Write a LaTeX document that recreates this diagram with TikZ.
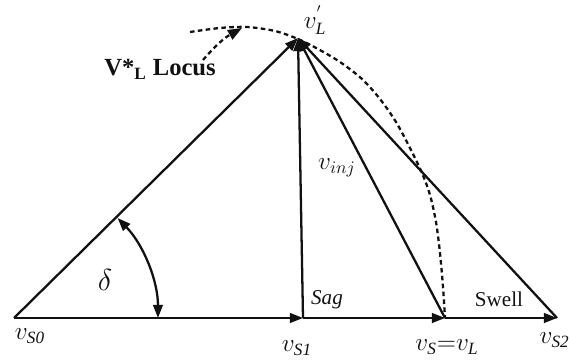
\documentclass[tikz,border=0pt]{standalone}
\usepackage{fontspec}
\setmainfont{Liberation Serif}
\usetikzlibrary{arrows.meta}
\definecolor{Ink}{HTML}{111111}
\tikzset{vec/.style={-{Triangle[length=7.5pt,width=5.5pt]},line width=1.3pt,draw=Ink},locus/.style={line width=1.3pt,draw=Ink,dash pattern=on 2.6pt off 1.9pt},lbl/.style={font=\fontsize{14}{16}\selectfont,text=Ink,inner sep=0pt},tag/.style={font=\fontsize{12}{14}\selectfont,text=Ink,inner sep=0pt}}

\begin{document}
\begin{tikzpicture}[x=.02cm,y=.02cm]
        \useasboundingbox(0,0)rectangle(571,361);
        \coordinate(S0)at(14,43);
        \coordinate(S1)at(303,43);
        \coordinate(S)at(445,43);
        \coordinate(S2)at(557,43);
        \coordinate(L)at(298,323);
        \coordinate(LocTail)at(203,301);
        \coordinate(LocTip)at(242,333);
        \foreach \a/\b in {S0/S1,S1/S,S/S2}\draw[vec](\a)--(\b);
        \foreach \a in {S0,S1,S,S2}\draw[vec](\a)--(L);
        \draw[locus]plot[smooth]coordinates{(190,329)(220,333)(247,334)(275,330)(298,322)(318,312)(340,299)(362,282)(380,262)(396,239)(410,213)(422,188)(430,166)(436,139)(440,108)(443,74)(445,43)};
        \draw[locus,-{Triangle[length=8pt,width=6pt]}](LocTail)to[bend left=10](LocTip);
        \draw[{Triangle[length=7.5pt,width=5.5pt]}-{Triangle[length=7.5pt,width=5.5pt]},line width=1.3pt,draw=Ink]([xshift=2.88cm]S0)arc[start angle=0,end angle=44,radius=2.88cm];
        \node[lbl](lS0)at(30,25){$v_{\mathit{S0}}$};
        \node[lbl](lS1)at(297,13){$v_{\mathit{S1}}$};
        \node[lbl](lS)at(447,14){$v_{\mathit{S}}{=}v_{\mathit{L}}$};
        \node[lbl,anchor=east](lS2)at(570,21){$v_{\mathit{S2}}$};
        \node[lbl](lL)at(315,341){$v^{'}_{\mathit{L}}$};
        \node[lbl](lInj)at(337,193){$v_{inj}$};
        \node[font=\fontsize{18}{20}\selectfont,text=Ink](lDelta)at(105,81){$\delta$};
        \node[tag](lSag)at(327,61){\textit{Sag}};
        \node[tag](lSwell)at(499,62){Swell};
        \node[font=\fontsize{14}{16}\selectfont\bfseries,text=Ink](lLocus)at(160,292){V*\textsubscript{L} Locus};
      \end{tikzpicture}
\end{document}
